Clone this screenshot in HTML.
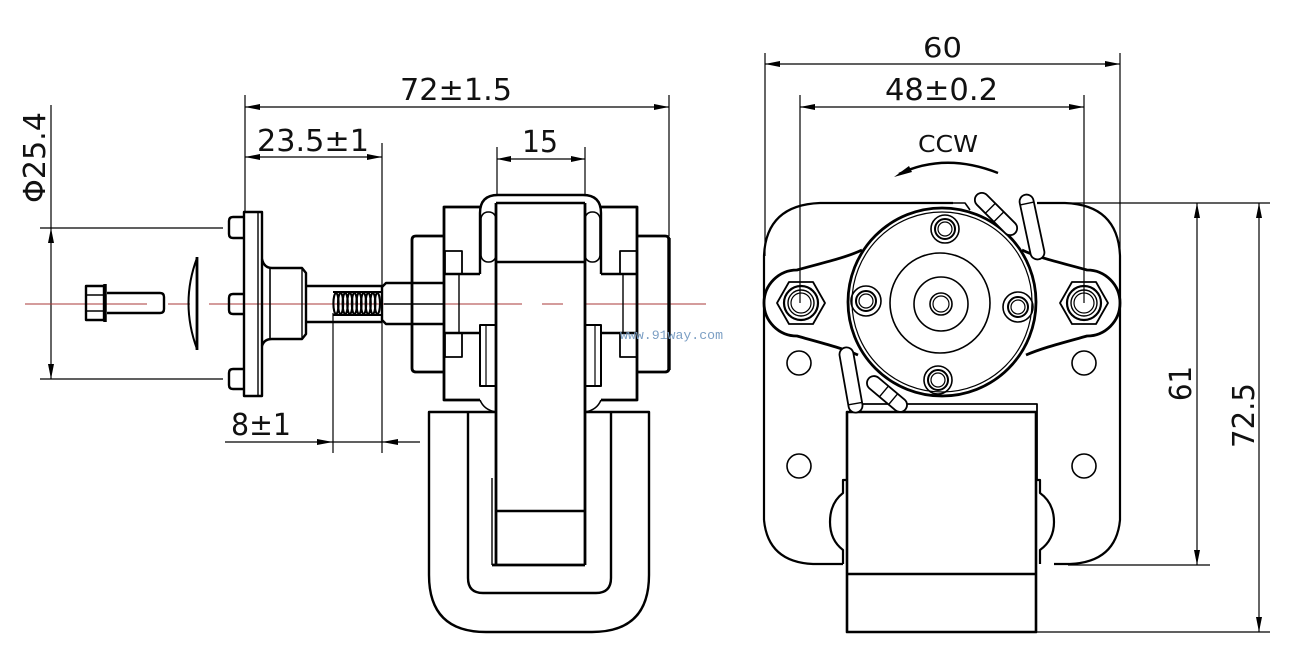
<!DOCTYPE html>
<html><head><meta charset="utf-8"><style>
html,body{margin:0;padding:0;background:#fff;}
svg{display:block;}
text{font-family:"DejaVu Sans","Liberation Sans",sans-serif;fill:#111;}
</style></head><body>
<svg width="1308" height="670" viewBox="0 0 1308 670" xmlns="http://www.w3.org/2000/svg">
<rect width="1308" height="670" fill="#fff"/>

<!-- ============ LEFT VIEW: DIMENSIONS ============ -->
<g stroke="#000" stroke-width="1.2" fill="none">
  <line x1="245" y1="95" x2="245" y2="212"/>
  <line x1="669" y1="95" x2="669" y2="236"/>
  <line x1="245" y1="107" x2="669" y2="107"/>
  <line x1="245" y1="157" x2="382" y2="157"/>
  <line x1="382" y1="143" x2="382" y2="453"/>
  <line x1="497" y1="147" x2="497" y2="196"/>
  <line x1="585" y1="147" x2="585" y2="196"/>
  <line x1="497" y1="159" x2="585" y2="159"/>
  <line x1="333" y1="313" x2="333" y2="453"/>
  <line x1="225" y1="442" x2="420" y2="442"/>
  <line x1="51" y1="105" x2="51" y2="379"/>
  <line x1="40" y1="228" x2="223" y2="228"/>
  <line x1="40" y1="379" x2="223" y2="379"/>
</g>
<g fill="#000">
  <polygon points="245,107 260,104 260,110"/>
  <polygon points="669,107 654,104 654,110"/>
  <polygon points="245,157 260,154 260,160"/>
  <polygon points="382,157 367,154 367,160"/>
  <polygon points="497,159 511,156 511,162"/>
  <polygon points="585,159 571,156 571,162"/>
  <polygon points="333,442 317,439 317,445"/>
  <polygon points="382,442 398,439 398,445"/>
  <polygon points="51,228 48,243 54,243"/>
  <polygon points="51,379 48,364 54,364"/>
</g>
<text x="400" y="100" font-size="30" textLength="112" lengthAdjust="spacingAndGlyphs">72±1.5</text>
<text x="257" y="151" font-size="30" textLength="112" lengthAdjust="spacingAndGlyphs">23.5±1</text>
<text x="522" y="152" font-size="30" textLength="36" lengthAdjust="spacingAndGlyphs">15</text>
<text x="231" y="435" font-size="30" textLength="60" lengthAdjust="spacingAndGlyphs">8±1</text>
<text transform="translate(45,203) rotate(-90)" font-size="30" textLength="91" lengthAdjust="spacingAndGlyphs">Φ25.4</text>

<!-- red center line -->
<g stroke="#a83a3a" stroke-width="1.1">
  <line x1="25" y1="304" x2="147" y2="304"/>
  <line x1="168" y1="304" x2="190" y2="304"/>
  <line x1="209" y1="304" x2="522" y2="304"/>
  <line x1="542" y1="304" x2="563" y2="304"/>
  <line x1="585" y1="304" x2="706" y2="304"/>
</g>

<!-- ============ LEFT VIEW: PARTS ============ -->
<g stroke="#000" stroke-width="2.4" fill="none" stroke-linejoin="round">
  <!-- bolt -->
  <rect x="86" y="286" width="18" height="34"/>
  <line x1="86" y1="295" x2="104" y2="295" stroke-width="1.4"/>
  <line x1="86" y1="311" x2="104" y2="311" stroke-width="1.4"/>
  <line x1="105" y1="284" x2="105" y2="322" stroke-width="3.5"/>
  <path d="M107,293 L160,293 Q164,293 164,297 L164,309 Q164,313 160,313 L107,313"/>
  <!-- lens washer -->
  <path d="M197,258 Q180,303 197,349" stroke-width="2"/>
  <line x1="197" y1="257" x2="197" y2="350" stroke-width="2.8"/>
  <!-- flange plate -->
  <rect x="244" y="212" width="18" height="184"/>
  <line x1="258" y1="212" x2="258" y2="396" stroke-width="1.4"/>
  <path d="M244,217 L233,217 Q229,217 229,221 L229,234 Q229,238 233,238 L244,238"/>
  <path d="M244,294 L233,294 Q229,294 229,298 L229,310 Q229,314 233,314 L244,314"/>
  <path d="M244,369 L233,369 Q229,369 229,373 L229,385 Q229,389 233,389 L244,389"/>
  <!-- hub -->
  <path d="M262,259 Q264,268 272,268 L302,268 L306,273 L306,334 L302,339 L272,339 Q264,339 262,346"/>
  <line x1="270" y1="268" x2="270" y2="339" stroke-width="1.6"/>
  <line x1="302" y1="268" x2="302" y2="339" stroke-width="1.4"/>
  <!-- shaft -->
  <line x1="306" y1="286" x2="382" y2="286"/>
  <line x1="306" y1="322" x2="382" y2="322"/>
  <!-- sleeve -->
  <path d="M443,283 L386,283 L382,287 L382,320 L386,324 L443,324"/>
  <line x1="384" y1="304" x2="443" y2="304" stroke-width="1.6"/>
  <!-- left boss -->
  <path d="M443,236 L416,236 Q412,236 412,240 L412,368 Q412,372 416,372 L443,372" stroke-width="2.8"/>
  <!-- left frame block -->
  <path d="M480,207 L444,207 L444,400 L480,400" stroke-width="2.8"/>
  <rect x="445" y="251" width="17" height="23" stroke-width="1.8"/>
  <rect x="445" y="333" width="17" height="24" stroke-width="1.8"/>
  <line x1="444" y1="274" x2="480" y2="274"/>
  <line x1="444" y1="333" x2="480" y2="333"/>
  <line x1="459" y1="274" x2="459" y2="333" stroke-width="1.4"/>
  <!-- right frame block -->
  <path d="M601,207 L637,207 L637,400 L601,400" stroke-width="2.8"/>
  <rect x="620" y="251" width="17" height="23" stroke-width="1.8"/>
  <rect x="620" y="333" width="17" height="24" stroke-width="1.8"/>
  <line x1="601" y1="274" x2="637" y2="274"/>
  <line x1="601" y1="333" x2="637" y2="333"/>
  <line x1="623" y1="274" x2="623" y2="333" stroke-width="1.4"/>
  <!-- right boss -->
  <path d="M637,236 L665,236 Q669,236 669,240 L669,368 Q669,372 665,372 L637,372" stroke-width="2.8"/>
  <line x1="669" y1="238" x2="669" y2="370" stroke-width="3.4"/>
  <!-- coil top -->
  <path d="M480,274 L480,213 Q480,195 498,195 L583,195 Q601,195 601,213 L601,274"/>
  <rect x="481" y="212" width="15" height="50" rx="7" stroke-width="1.6"/>
  <rect x="585" y="212" width="15" height="50" rx="7" stroke-width="1.6"/>
  <!-- lamination -->
  <line x1="496" y1="203" x2="585" y2="203"/>
  <line x1="496" y1="262" x2="585" y2="262"/>
  <line x1="496" y1="203" x2="496" y2="565" stroke-width="2.8"/>
  <line x1="585" y1="203" x2="585" y2="565" stroke-width="2.8"/>
  <!-- lower coil parts -->
  <rect x="480" y="325" width="16" height="61" stroke-width="2"/>
  <line x1="486" y1="325" x2="486" y2="386" stroke-width="1.2"/>
  <rect x="585" y="325" width="16" height="61" stroke-width="2"/>
  <line x1="595" y1="325" x2="595" y2="386" stroke-width="1.2"/>
  <path d="M480,400 Q484,410 496,412" stroke-width="1.6"/>
  <path d="M601,400 Q597,410 585,412" stroke-width="1.6"/>
  <!-- U frame -->
  <path d="M496,412 L429,412 L429,575 Q429,632 486,632 L592,632 Q649,632 649,575 L649,412 L585,412"/>
  <path d="M468,412 L468,578 Q468,593 483,593 L596,593 Q611,593 611,578 L611,412"/>
  <line x1="496" y1="511" x2="585" y2="511"/>
  <line x1="492" y1="565" x2="585" y2="565" stroke-width="2.8"/>
  <line x1="492" y1="478" x2="492" y2="565" stroke-width="1.4"/>
</g>
<!-- thread -->
<g stroke="#000" stroke-width="2.1" fill="none">
  <line x1="333" y1="292" x2="382" y2="292"/>
  <line x1="333" y1="315" x2="382" y2="315"/>
  <ellipse cx="336" cy="303.5" rx="2.6" ry="10.5"/>
  <ellipse cx="340.6" cy="303.5" rx="2.6" ry="10.5"/>
  <ellipse cx="345.2" cy="303.5" rx="2.6" ry="10.5"/>
  <ellipse cx="349.8" cy="303.5" rx="2.6" ry="10.5"/>
  <ellipse cx="354.4" cy="303.5" rx="2.6" ry="10.5"/>
  <ellipse cx="359" cy="303.5" rx="2.6" ry="10.5"/>
  <ellipse cx="363.6" cy="303.5" rx="2.6" ry="10.5"/>
  <ellipse cx="368.2" cy="303.5" rx="2.6" ry="10.5"/>
  <ellipse cx="372.8" cy="303.5" rx="2.6" ry="10.5"/>
  <ellipse cx="377.4" cy="303.5" rx="2.6" ry="10.5"/>
</g>

<!-- watermark -->
<text x="620" y="339" font-size="13" style="font-family:'Liberation Mono',monospace;fill:#7c9fc4" textLength="103" lengthAdjust="spacingAndGlyphs">www.91way.com</text>

<!-- ============ RIGHT VIEW: DIMENSIONS ============ -->
<g stroke="#000" stroke-width="1.2" fill="none">
  <line x1="765" y1="53" x2="765" y2="256"/>
  <line x1="1120" y1="53" x2="1120" y2="256"/>
  <line x1="765" y1="64" x2="1120" y2="64"/>
  <line x1="800" y1="95" x2="800" y2="303"/>
  <line x1="1084" y1="95" x2="1084" y2="303"/>
  <line x1="800" y1="107" x2="1084" y2="107"/>
  <line x1="1062" y1="203" x2="1270" y2="203"/>
  <line x1="1068" y1="565" x2="1210" y2="565"/>
  <line x1="1036" y1="632" x2="1270" y2="632"/>
  <line x1="1197" y1="203" x2="1197" y2="565"/>
  <line x1="1259" y1="203" x2="1259" y2="632"/>
</g>
<g fill="#000">
  <polygon points="765,64 780,61 780,67"/>
  <polygon points="1120,64 1105,61 1105,67"/>
  <polygon points="800,107 815,104 815,110"/>
  <polygon points="1084,107 1069,104 1069,110"/>
  <polygon points="1197,203 1194,218 1200,218"/>
  <polygon points="1197,565 1194,550 1200,550"/>
  <polygon points="1259,203 1256,218 1262,218"/>
  <polygon points="1259,632 1256,617 1262,617"/>
</g>
<text x="923" y="57" font-size="28" textLength="39" lengthAdjust="spacingAndGlyphs">60</text>
<text x="885" y="100" font-size="30" textLength="113" lengthAdjust="spacingAndGlyphs">48±0.2</text>
<text x="918" y="152" font-size="23" textLength="60" lengthAdjust="spacingAndGlyphs">CCW</text>
<text transform="translate(1191,401) rotate(-90)" font-size="30" textLength="35" lengthAdjust="spacingAndGlyphs">61</text>
<text transform="translate(1254,448) rotate(-90)" font-size="30" textLength="65" lengthAdjust="spacingAndGlyphs">72.5</text>
<!-- CCW arrow -->
<path d="M899,174 Q945,152 998,173" stroke="#000" stroke-width="2.4" fill="none"/>
<polygon points="894,177 909,166 912,172" fill="#000"/>

<!-- ============ RIGHT VIEW: PARTS ============ -->
<g stroke="#000" stroke-width="2.2" fill="none" stroke-linejoin="round">
  <!-- plate outline -->
  <path d="M764,520 L764,256 Q766,205 820,203 L953,203"/>
  <path d="M1037,203 L1065,203 Q1118,205 1120,256 L1120,520 Q1116,562 1070,564 L1054,564"/>
  <path d="M764,520 Q768,562 813,564 L843,564"/>
  <!-- capacitor side bumps -->
  <path d="M843,564 L843,550 Q830,540 830,522 Q830,503 843,493 L843,480 L847,480"/>
  <path d="M1040,564 L1040,550 Q1054,540 1054,522 Q1054,503 1040,493 L1040,480 L1036,480"/>
  <!-- capacitor box -->
  <rect x="847" y="412" width="189" height="220" stroke-width="2.6"/>
  <line x1="847" y1="574" x2="1036" y2="574" stroke-width="2.6"/>
  <path d="M850,412 L850,404 L1037,404 L1037,480" stroke-width="1.8"/>
  <!-- holes -->
  <circle cx="799" cy="363" r="12" stroke-width="1.6"/>
  <circle cx="1084" cy="363" r="12" stroke-width="1.6"/>
  <circle cx="799" cy="466" r="12" stroke-width="1.6"/>
  <circle cx="1084" cy="466" r="12" stroke-width="1.6"/>
  <!-- bracket -->
  <path d="M862,250 C845,258 822,263 797,270 A33,33 0 0 0 797,336 C822,343 842,348 858,355" stroke-width="2.8"/>
  <path d="M1022,250 C1039,258 1062,263 1087,270 A33,33 0 0 1 1087,336 C1062,343 1042,348 1026,355" stroke-width="2.8"/>
  <!-- main circle -->
  <circle cx="942" cy="302" r="94" fill="#fff" stroke-width="2.8"/>
  <circle cx="942" cy="302" r="90" stroke-width="1.2"/>
  <circle cx="940" cy="303" r="50" stroke-width="1.6"/>
  <circle cx="941" cy="304" r="27" stroke-width="1.6"/>
  <circle cx="941" cy="304" r="11" stroke-width="1.6"/>
  <circle cx="941" cy="304" r="8" stroke-width="1.2"/>
  <!-- nuts -->
  <polygon points="777,303 789,282 813,282 825,303 813,324 789,324" stroke-width="1.8"/>
  <circle cx="801" cy="303" r="17" stroke-width="2.2"/>
  <circle cx="801" cy="303" r="13" stroke-width="1.4"/>
  <circle cx="801" cy="303" r="10" stroke-width="1.2"/>
  <polygon points="1060,303 1072,282 1096,282 1108,303 1096,324 1072,324" stroke-width="1.8"/>
  <circle cx="1084" cy="303" r="17" stroke-width="2.2"/>
  <circle cx="1084" cy="303" r="13" stroke-width="1.4"/>
  <circle cx="1084" cy="303" r="10" stroke-width="1.2"/>
  <!-- bosses -->
  <circle cx="945" cy="229" r="14" stroke-width="1.6"/>
  <circle cx="945" cy="229" r="10" stroke-width="2"/>
  <circle cx="945" cy="229" r="7" stroke-width="1.2"/>
  <circle cx="866" cy="301" r="15" stroke-width="1.6"/>
  <circle cx="866" cy="301" r="10" stroke-width="2"/>
  <circle cx="866" cy="301" r="7" stroke-width="1.2"/>
  <circle cx="1018" cy="307" r="15" stroke-width="1.6"/>
  <circle cx="1018" cy="307" r="10" stroke-width="2"/>
  <circle cx="1018" cy="307" r="7" stroke-width="1.2"/>
  <circle cx="938" cy="380" r="14" stroke-width="1.6"/>
  <circle cx="938" cy="380" r="10" stroke-width="2"/>
  <circle cx="938" cy="380" r="7" stroke-width="1.2"/>
  <!-- wires top right -->
  <g transform="translate(996,214) rotate(45)">
    <rect x="-27" y="-7" width="54" height="14" rx="7" fill="#fff" stroke-width="1.8"/>
    <line x1="-8" y1="-7" x2="-8" y2="7" stroke-width="1.4"/>
    <line x1="4" y1="-7" x2="4" y2="7" stroke-width="1.4"/>
  </g>
  <g transform="translate(1032,227) rotate(78)">
    <rect x="-33" y="-7" width="66" height="14" rx="7" fill="#fff" stroke-width="1.8"/>
    <line x1="-24" y1="-7" x2="-24" y2="7" stroke-width="1.4"/>
  </g>
  <path d="M953,203 L965,203 L970,210" stroke-width="1.6"/>
  <!-- wires bottom left -->
  <g transform="translate(851,380) rotate(80)">
    <rect x="-33" y="-7" width="66" height="14" rx="7" fill="#fff" stroke-width="1.8"/>
    <line x1="24" y1="-7" x2="24" y2="7" stroke-width="1.4"/>
  </g>
  <g transform="translate(887,394) rotate(40)">
    <rect x="-24" y="-7" width="48" height="14" rx="7" fill="#fff" stroke-width="1.8"/>
    <line x1="-4" y1="-7" x2="-4" y2="7" stroke-width="1.4"/>
    <line x1="8" y1="-7" x2="8" y2="7" stroke-width="1.4"/>
  </g>
</g>
</svg>
</body></html>
